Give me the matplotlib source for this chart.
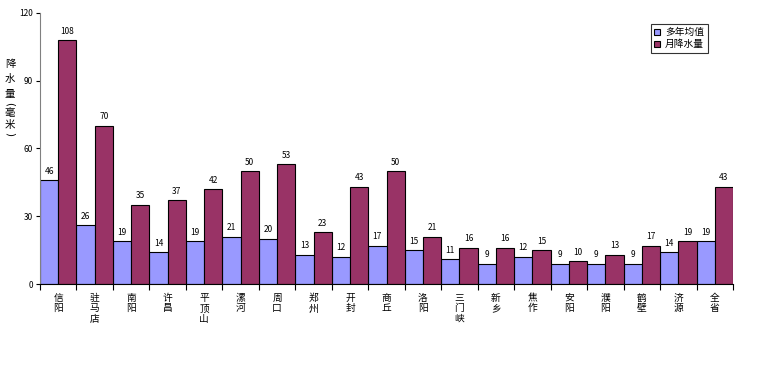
import matplotlib
matplotlib.use("Agg")
import matplotlib.pyplot as plt
import numpy as np

plt.rcParams['font.family'] = ['Noto Sans CJK SC', 'DejaVu Sans']

cities = ['信阳', '驻马店', '南阳', '许昌', '平顶山', '漯河', '周口', '郑州', '开封', '商丘',
          '洛阳', '三门峡', '新乡', '焦作', '安阳', '濮阳', '鹤壁', '济源', '全省']
avg = [46, 26, 19, 14, 19, 21, 20, 13, 12, 17, 15, 11, 9, 12, 9, 9, 9, 14, 19]
month = [108, 70, 35, 37, 42, 50, 53, 23, 43, 50, 21, 16, 16, 15, 10, 13, 17, 19, 43]

fig = plt.figure(figsize=(7.66, 3.73), dpi=100)
ax = fig.add_axes([40 / 766, 1 - 284 / 373, 693 / 766, 271 / 373])

x = np.arange(len(cities))
w = 0.5
b1 = ax.bar(x - w / 2, avg, w, color='#9999FF', edgecolor='black', linewidth=0.8, label='多年均值')
b2 = ax.bar(x + w / 2, month, w, color='#993366', edgecolor='black', linewidth=0.8, label='月降水量')

for bars in (b1, b2):
    for r in bars:
        ax.text(r.get_x() + r.get_width() / 2, r.get_height() + 2, str(int(r.get_height())),
                ha='center', va='bottom', fontsize=6)

ax.set_xlim(-0.5, len(cities) - 0.5)
ax.set_ylim(0, 120)
ax.set_yticks([0, 30, 60, 90, 120])
ax.tick_params(axis='y', labelsize=6, length=3, pad=2)

ax.set_xticks(np.arange(len(cities) + 1) - 0.5)
ax.set_xticklabels([])
ax.tick_params(axis='x', length=4, direction='out')
for i, c in enumerate(cities):
    ax.text(i, -4, '\n'.join(c), ha='center', va='top', fontsize=7, linespacing=1.05)

for s in ['top', 'right']:
    ax.spines[s].set_visible(False)
ax.spines['left'].set_color('#808080')

# y label, stacked characters
ylab = [('降', 64, 0), ('水', 79, 0), ('量', 94, 0), ('(', 104, -90),
        ('毫', 113, 0), ('米', 125, 0), (')', 134, -90)]
for ch, yy, rot in ylab:
    fig.text(10 / 766, 1 - yy / 373, ch, ha='center', va='center', fontsize=7.5,
             rotation=rot, family=['DejaVu Sans'] if rot else None)

leg = ax.legend(loc='upper left', bbox_to_anchor=(651 / 766, 1 - 24 / 373),
                bbox_transform=fig.transFigure, fontsize=7, frameon=True, fancybox=False,
                edgecolor='black', handlelength=0.6, handleheight=0.6, handletextpad=0.5,
                borderpad=0.35, labelspacing=0.2, borderaxespad=0)
leg.get_frame().set_linewidth(0.8)

fig.savefig('out.png', dpi=100)
